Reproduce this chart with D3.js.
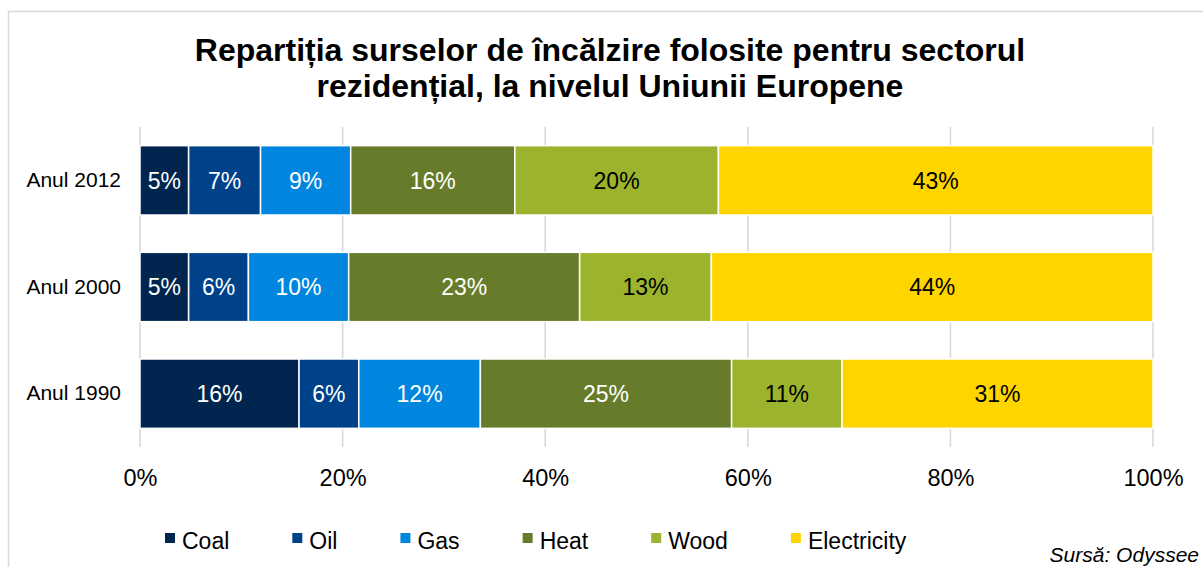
<!DOCTYPE html>
<html>
<head>
<meta charset="utf-8">
<script src="https://cdn.jsdelivr.net/npm/d3@7/dist/d3.min.js"></script>
<style>
  html, body { margin: 0; padding: 0; background: #fff; }
  svg { display: block; font-family: "Liberation Sans", Arial, sans-serif; }
</style>
</head>
<body>
<svg id="chart" width="1203" height="567"></svg>
<script>
// Residential heating sources in the EU, share of total (%)
const years = ["Anul 2012", "Anul 2000", "Anul 1990"];
const sources = ["Coal", "Oil", "Gas", "Heat", "Wood", "Electricity"];
const coal        = [4.8, 4.8, 15.7];
const oil         = [7.1, 5.9, 5.9];
const gas         = [8.9, 9.9, 12.0];
const heat        = [16.2, 22.8, 24.8];
const wood        = [20.1, 13.0, 10.9];
const electricity = [42.9, 43.6, 30.7];
const tickValues  = [0, 20, 40, 60, 80, 100];

const seriesValues = [coal, oil, gas, heat, wood, electricity];
const colors = ["#00264f", "#00428a", "#0086de", "#667c2a", "#9bb32d", "#ffd500"];
const labelColors = ["#fff", "#fff", "#fff", "#fff", "#000", "#000"];

const rows = years.map((y, i) => {
  const r = { year: y };
  sources.forEach((s, j) => { r[s] = seriesValues[j][i]; });
  return r;
});
const stacked = d3.stack().keys(sources)(rows);

const svg = d3.select("#chart");

// outer frame
svg.append("rect")
  .attr("x", 8.5).attr("y", 11.5)
  .attr("width", 1400).attr("height", 700)
  .attr("fill", "none").attr("stroke", "#d9d9d9").attr("stroke-width", 1.5);

// title
const title = svg.append("text")
  .attr("text-anchor", "middle")
  .attr("font-weight", "bold").attr("font-size", 32).attr("fill", "#000");
title.append("tspan").attr("x", 610).attr("y", 61)
  .text("Repartiția surselor de încălzire folosite pentru sectorul");
title.append("tspan").attr("x", 610).attr("y", 97)
  .text("rezidențial, la nivelul Uniunii Europene");

const x = d3.scaleLinear().domain([0, 100]).range([140, 1153]);
const y = d3.scaleBand().domain(years).range([127, 447])
  .paddingInner(0.35).paddingOuter(0.175);

// vertical gridlines
svg.append("g").selectAll("line").data(tickValues).join("line")
  .attr("x1", d => x(d)).attr("x2", d => x(d))
  .attr("y1", 127).attr("y2", 447)
  .attr("stroke", "#d9d9d9").attr("stroke-width", 1.6);

// x axis tick labels
const xAxis = d3.axisBottom(x).tickValues(tickValues)
  .tickFormat(d => d + "%").tickSize(0).tickPadding(0);
const gx = svg.append("g").attr("transform", "translate(0,469)").call(xAxis);
gx.select(".domain").remove();
gx.selectAll("text")
  .attr("font-family", "Liberation Sans, Arial, sans-serif")
  .attr("font-size", 23.5).attr("fill", "#000").attr("dy", "0.71em");

// category labels
const yAxis = d3.axisLeft(y).tickSize(0).tickPadding(0);
const gy = svg.append("g").attr("transform", "translate(121,0)").call(yAxis);
gy.select(".domain").remove();
gy.selectAll("text")
  .attr("font-family", "Liberation Sans, Arial, sans-serif")
  .attr("font-size", 21).attr("fill", "#000");

// stacked bars
const layers = svg.append("g").selectAll("g").data(stacked).join("g")
  .attr("fill", (d, i) => colors[i]);
layers.selectAll("rect").data(d => d).join("rect")
  .attr("x", d => x(d[0]))
  .attr("y", d => y(d.data.year))
  .attr("width", d => x(d[1]) - x(d[0]))
  .attr("height", y.bandwidth())
  .attr("stroke", "#fff").attr("stroke-width", 1.5);

// value labels
const labels = svg.append("g").selectAll("g").data(stacked).join("g")
  .attr("fill", (d, i) => labelColors[i]);
labels.selectAll("text").data(d => d).join("text")
  .attr("x", d => (x(d[0]) + x(d[1])) / 2)
  .attr("y", d => y(d.data.year) + y.bandwidth() / 2)
  .attr("dy", "0.36em")
  .attr("text-anchor", "middle")
  .attr("font-size", 23)
  .text(d => Math.round(d[1] - d[0]) + "%");

// legend
const legend = svg.append("g");
let lx = 165;
sources.forEach((s, i) => {
  legend.append("rect").attr("x", lx).attr("y", 533)
    .attr("width", 10).attr("height", 10).attr("fill", colors[i]);
  const t = legend.append("text").attr("x", lx + 17).attr("y", 549)
    .attr("font-size", 23).attr("fill", "#000").text(s);
  lx += 17 + t.node().getComputedTextLength() + 63;
});

// source note
svg.append("text")
  .attr("x", 1199).attr("y", 562)
  .attr("text-anchor", "end")
  .attr("font-size", 21).attr("font-style", "italic").attr("fill", "#000")
  .text("Sursă: Odyssee");
</script>
</body>
</html>
